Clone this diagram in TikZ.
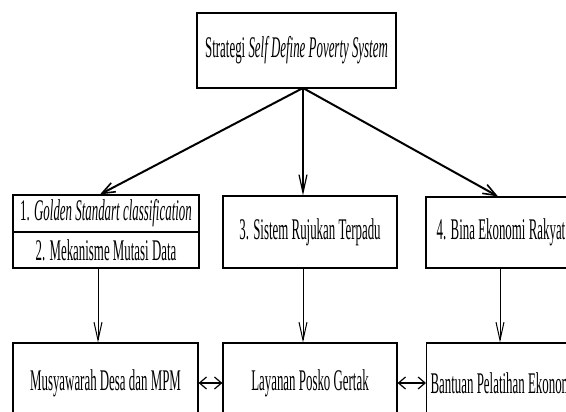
\documentclass[tikz,border=0pt]{standalone}
\usepackage{fontspec}
\setmainfont{Liberation Serif}[FakeStretch=0.43]
\usetikzlibrary{arrows.meta}

\tikzset{
  box/.style={draw=black, line width=1.2pt, fill=white, inner sep=0pt,
              font=\fontsize{30}{32}\selectfont},
  heavy/.style={line width=2pt, -{Straight Barb[length=13pt,width=10pt,line width=1.6pt]}},
  down/.style={line width=1pt, -{Straight Barb[length=18pt,width=8pt,line width=1pt]}},
  both/.style={line width=1.2pt, {Straight Barb[length=7pt,width=12pt,line width=1.2pt]}-{Straight Barb[length=7pt,width=12pt,line width=1.2pt]}}
}

\begin{document}
\begin{tikzpicture}[x=1pt,y=-1pt]
  % page frame
  \fill[white] (0,0) rectangle (566,412);
  \clip (0,0) rectangle (566,412);

  % strategy box
  \node[box, minimum width=199pt, minimum height=75pt] (top) at (296.5,50.5)
    {Strategi \textit{Self Define Poverty System}};

  % second level
  \node[box, minimum width=186pt, minimum height=37pt] (a1) at (106,213.5)
    {1. \textit{Golden Standart classification}};
  \node[box, minimum width=186pt, minimum height=36pt] (a2) at (106,250)
    {2. Mekanisme Mutasi Data};
  \node[box, minimum width=174pt, minimum height=72pt] (m1) at (310,232)
    {3. Sistem Rujukan Terpadu};
  \node[box, minimum width=150pt, minimum height=71pt] (r1) at (501,232.5)
    {4. Bina Ekonomi Rakyat};

  % third level
  \node[box, minimum width=185pt, minimum height=80pt] (b1) at (105.5,383)
    {Musyawarah Desa dan MPM};
  \node[box, minimum width=174pt, minimum height=80pt] (b2) at (310,383)
    {Layanan Posko Gertak};
  \node[box, anchor=west, minimum height=80pt, inner xsep=4pt] (b3) at (426,383)
    {Bantuan Pelatihan Ekonomi\hspace{10pt}};

  % branching arrows from the strategy box
  \coordinate (hub) at (303,88);
  \draw[heavy] (hub) -- ([xshift=-6pt]a1.north);
  \draw[line width=1.4pt, -{Straight Barb[length=18pt,width=8pt,line width=1.2pt]}]
    (hub) -- ([xshift=-7pt]m1.north);
  \draw[heavy] (hub) -- ([xshift=-3pt]r1.north);

  % downward arrows
  \draw[down] ([xshift=-8pt]a2.south) -- ([xshift=-7.5pt]b1.north);
  \draw[down] ([xshift=-7pt]m1.south) -- ([xshift=-7pt]b2.north);
  \draw[down] ([xshift=-1pt]r1.south) -- ([xshift=74pt]b3.north west);

  % links between the bottom boxes
  \draw[both] (b1.east) -- (b2.west);
  \draw[both] (b2.east) -- (b3.west);
\end{tikzpicture}
\end{document}
